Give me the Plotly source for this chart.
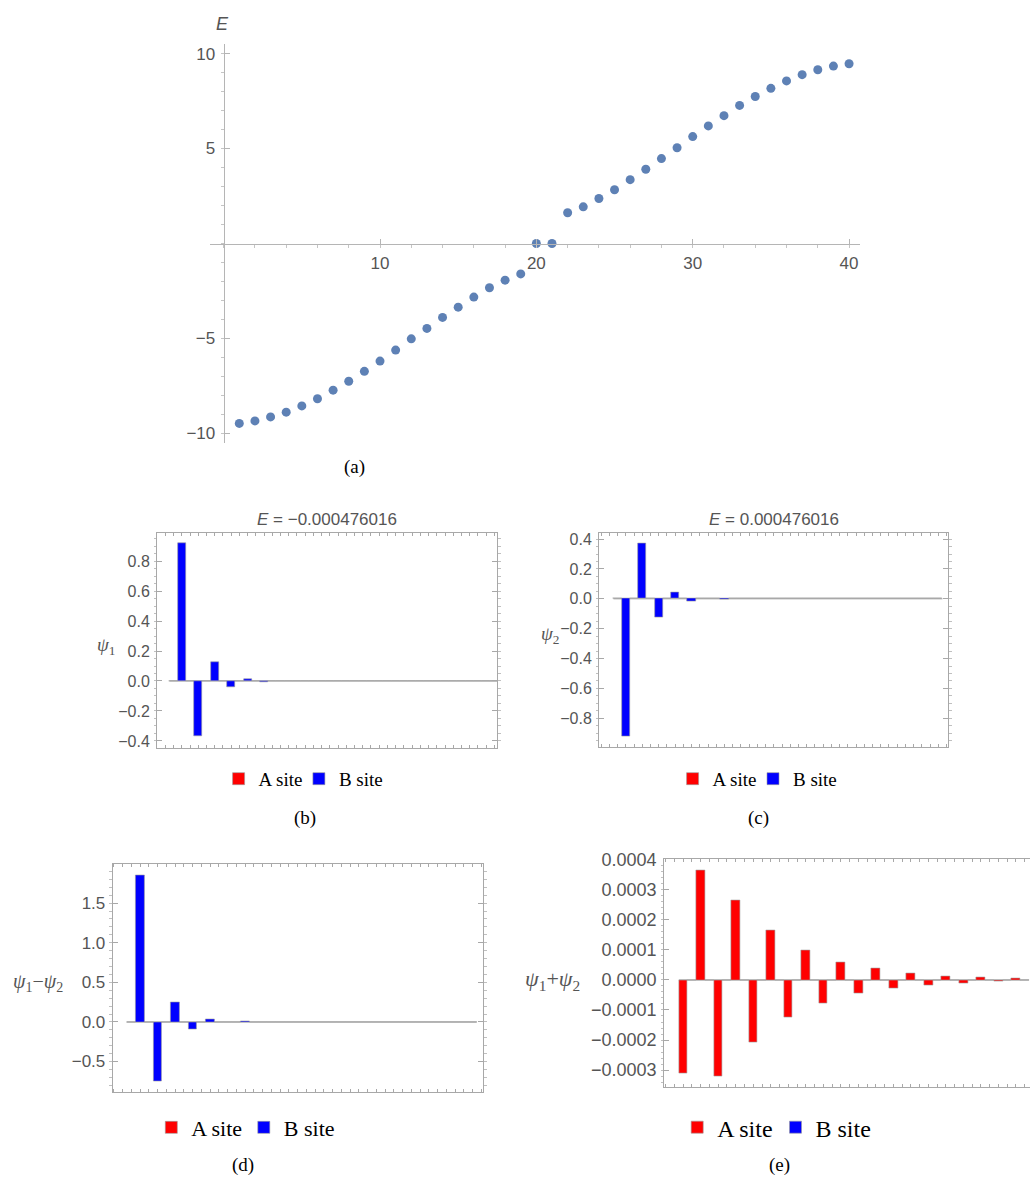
import plotly.graph_objects as go

W, H = 1030, 1190

# ---------------- data ----------------
level_index = list(range(1, 41))
energy = [-9.47, -9.34, -9.13, -8.88, -8.55, -8.17, -7.72, -7.25, -6.73, -6.19,
          -5.61, -5.02, -4.47, -3.89, -3.35, -2.82, -2.33, -1.93, -1.60, -0.000476016,
          0.000476016, 1.62, 1.93, 2.37, 2.83, 3.36, 3.91, 4.47, 5.04, 5.63,
          6.19, 6.73, 7.27, 7.74, 8.17, 8.56, 8.89, 9.15, 9.34, 9.46]

cell_index = list(range(1, 21))

psi1_A = [-0.000155, 0.000182, -0.000160, 0.000132, -0.000104, 0.000083, -0.000063, 0.000050,
          -0.000038, 0.000030, -0.000023, 0.000018, -0.000014, 0.000011, -0.000008, 0.000007,
          -0.000005, 0.000004, -0.000003, 0.000002]
psi1_B = [0.920, -0.368, 0.126, -0.044, 0.015, -0.005, 0.0017, -0.0006, 0.0002, -0.00007,
          0.00002, -0.00001, 0.0, 0.0, 0.0, 0.0, 0.0, 0.0, 0.0, 0.0]

psi2_A = [-0.000155, 0.000181, -0.000161, 0.000132, -0.000103, 0.000082, -0.000063, 0.000049,
          -0.000039, 0.000030, -0.000023, 0.000019, -0.000013, 0.000012, -0.000009, 0.000006,
          -0.000005, 0.000004, -0.000003, 0.000002]
psi2_B = [-0.921, 0.371, -0.124, 0.044, -0.014, 0.005, -0.0017, 0.0006, -0.0002, 0.00007,
          -0.00002, 0.00001, 0.0, 0.0, 0.0, 0.0, 0.0, 0.0, 0.0, 0.0]

diff_A = [0.0, 0.0, 0.0, 0.0, 0.0, 0.0, 0.0, 0.0, 0.0, 0.0,
          0.0, 0.0, 0.0, 0.0, 0.0, 0.0, 0.0, 0.0, 0.0, 0.0]
diff_B = [1.852, -0.749, 0.251, -0.088, 0.028, -0.010, 0.0035, -0.0012, 0.0004, -0.00014,
          0.00005, -0.00002, 0.0, 0.0, 0.0, 0.0, 0.0, 0.0, 0.0, 0.0]

sum_A = [-0.000310, 0.000363, -0.000321, 0.000264, -0.000207, 0.000165, -0.000126, 0.000099,
         -0.000077, 0.000060, -0.000046, 0.000037, -0.000027, 0.000023, -0.000017, 0.000013,
         -0.000010, 0.000008, -0.000006, 0.000004]
sum_B = [0.0, 0.0, 0.0, 0.0, 0.0, 0.0, 0.0, 0.0, 0.0, 0.0,
         0.0, 0.0, 0.0, 0.0, 0.0, 0.0, 0.0, 0.0, 0.0, 0.0]

site_names = ["A site", "B site"]
site_colors = ["#FF0000", "#0000FF"]
titles = ["<i>E</i> = \u22120.000476016", "<i>E</i> = 0.000476016"]
y_titles = ["<i>\u03c8</i><sub>1</sub>", "<i>\u03c8</i><sub>2</sub>",
            "<i>\u03c8</i><sub>1</sub>\u2212<i>\u03c8</i><sub>2</sub>",
            "<i>\u03c8</i><sub>1</sub>+<i>\u03c8</i><sub>2</sub>"]
captions = ["(a)", "(b)", "(c)", "(d)", "(e)"]

# ---------------- helpers ----------------
def fx(px):
    return px / W


def fy(py):
    return 1 - py / H


SANS = "Liberation Sans"
SERIF = "Liberation Serif"
TICK_COL = "#555555"
FRAME_COL = "#a8a8a8"

fig = go.Figure()

# ---------------- panel (a) ----------------
ax_xr = [-0.874, 40.70]
ax_yr = [-10.5, 10.52]
ax_xd = [fx(210), fx(860)]
ax_yd = [fy(438), fy(35)]

fig.add_trace(go.Scatter(
    x=level_index, y=energy, mode="markers",
    marker=dict(color="#5E81B5", size=9),
    xaxis="x", yaxis="y", showlegend=False, hoverinfo="x+y"))

xpos0 = ax_yd[0] + (0 - ax_yr[0]) / (ax_yr[1] - ax_yr[0]) * (ax_yd[1] - ax_yd[0])
ypos0 = ax_xd[0] + (0 - ax_xr[0]) / (ax_xr[1] - ax_xr[0]) * (ax_xd[1] - ax_xd[0])

axis_a_common = dict(showgrid=False, zeroline=False, showline=True, linecolor="#b5b5b5",
                     linewidth=1, ticks="inside", ticklen=5, tickcolor="#b5b5b5",
                     tickfont=dict(family=SANS, size=17, color=TICK_COL))
fig.update_layout(
    xaxis=dict(domain=ax_xd, range=ax_xr, anchor="free", position=xpos0,
               tickmode="array", tickvals=[10, 20, 30, 40], ticklabelstandoff=4,
               minor=dict(tickmode="linear", tick0=0, dtick=2, ticklen=3, tickcolor="#c5c5c5"),
               **axis_a_common),
    yaxis=dict(domain=ax_yd, range=ax_yr, anchor="free", position=ypos0,
               tickmode="array", tickvals=[-10, -5, 5, 10], ticklabelstandoff=5,
               minor=dict(tickmode="linear", tick0=0, dtick=1, ticklen=3, tickcolor="#c5c5c5"),
               **axis_a_common),
)

# ---------------- bar panels ----------------
# legend square centres (px) for A and B, legend centre y (px), legend font size
panels = [
    dict(n=2, A=psi1_A, B=psi1_B, xd=(157, 497), yd=(529, 745.7), xr=[-0.258, 20.41],
         yr=[-0.446, 0.987], tv=[-0.4, -0.2, 0.0, 0.2, 0.4, 0.6, 0.8], minor=0.05,
         fmt=".1f", fs=16, ymirror="ticks", leg=((237.6, 317.9), 777, 19)),
    dict(n=3, A=psi2_A, B=psi2_B, xd=(599, 948), yd=(529.3, 745), xr=[-0.38, 20.84],
         yr=[-0.993, 0.438], tv=[-0.8, -0.6, -0.4, -0.2, 0.0, 0.2, 0.4], minor=0.05,
         fmt=".1f", fs=16, ymirror="ticks", leg=((691.6, 772.0), 777, 19)),
    dict(n=4, A=diff_A, B=diff_B, xd=(112.7, 483.3), yd=(863.3, 1093.3), xr=[-0.314, 20.86],
         yr=[-0.887, 1.99], tv=[-0.5, 0.0, 0.5, 1.0, 1.5], minor=0.1,
         fmt=".1f", fs=17, ymirror="ticks", leg=((170.3, 262.8), 1129, 22)),
    dict(n=5, A=sum_A, B=sum_B, xd=(664.2, 1030), yd=(858.3, 1088.3), xr=[-0.334, 20.55],
         yr=[-0.000357, 0.000401],
         tv=[-0.0003, -0.0002, -0.0001, 0.0, 0.0001, 0.0002, 0.0003, 0.0004], minor=0.00002,
         fmt=".4f", fs=18, ymirror=False, leg=((696.2, 794.5), 1129, 24)),
]

shapes = []
legend_count = 0
for p in panels:
    n = p["n"]
    (cA, cB), ly, lfs = p["leg"]
    for name, col, vals, cx in zip(site_names, site_colors, [p["A"], p["B"]], (cA, cB)):
        legend_count += 1
        key = "legend" if legend_count == 1 else f"legend{legend_count}"
        fig.add_trace(go.Bar(
            x=cell_index, y=vals, name=name,
            marker=dict(color=col, line=dict(color="#9a9a9a", width=0.6)),
            xaxis=f"x{n}", yaxis=f"y{n}", legend=key, showlegend=True))
        fig.layout[key] = dict(orientation="h", x=fx(cx - 19), y=fy(ly), xanchor="left",
                               yanchor="middle", bgcolor="rgba(0,0,0,0)", borderwidth=0,
                               font=dict(family=SERIF, size=lfs, color="black"))
    common = dict(showgrid=False, zeroline=False, showline=True, linecolor=FRAME_COL,
                  linewidth=1, ticks="inside", tickcolor=FRAME_COL)
    fig.layout[f"xaxis{n}"] = dict(domain=[fx(p["xd"][0]), fx(p["xd"][1])], range=p["xr"],
                                   anchor=f"y{n}", tickmode="linear", tick0=0.75, dtick=0.5,
                                   ticklen=3, showticklabels=False, mirror="ticks", **common)
    fig.layout[f"yaxis{n}"] = dict(domain=[fy(p["yd"][1]), fy(p["yd"][0])], range=p["yr"],
                                   anchor=f"x{n}", tickmode="array", tickvals=p["tv"],
                                   ticklen=5, tickformat=p["fmt"], ticklabelstandoff=3,
                                   mirror=p["ymirror"],
                                   tickfont=dict(family=SANS, size=p["fs"], color=TICK_COL),
                                   minor=dict(tickmode="linear", tick0=0, dtick=p["minor"],
                                              ticklen=2.5, tickcolor="#c0c0c0"),
                                   **common)
    shapes.append(dict(type="line", xref=f"x{n}", yref=f"y{n}", layer="below",
                       x0=cell_index[0] - 0.5, x1=cell_index[-1] + 0.5, y0=0, y1=0,
                       line=dict(color="#a0a0a0", width=1)))

# ---------------- annotations ----------------
def note(text, cx, cy, family, size, color):
    return dict(text=text, x=fx(cx), y=fy(cy), xref="paper", yref="paper", showarrow=False,
                xanchor="center", yanchor="middle",
                font=dict(family=family, size=size, color=color))


ann = [note("<i>E</i>", 222, 15, SANS, 18, TICK_COL)]
for t, cx in zip(titles, [327, 773.5]):
    ann.append(note(t, cx, 515, SANS, 17, TICK_COL))
for t, (cx, cy, fs) in zip(y_titles, [(106, 643, 19), (550, 632, 19), (38, 983, 20), (552, 980, 22)]):
    ann.append(note(t, cx, cy, SERIF, fs, TICK_COL))
for t, (cx, cy) in zip(captions, [(354, 462), (305, 817), (758, 817), (243, 1167), (779, 1167)]):
    ann.append(note(t, cx, cy, SERIF, 19, "black"))

fig.update_layout(
    width=W, height=H, margin=dict(l=0, r=0, t=0, b=0),
    paper_bgcolor="white", plot_bgcolor="white",
    barmode="group", bargap=0, bargroupgap=0,
    shapes=shapes, annotations=ann,
)

fig.write_html("out.html")
